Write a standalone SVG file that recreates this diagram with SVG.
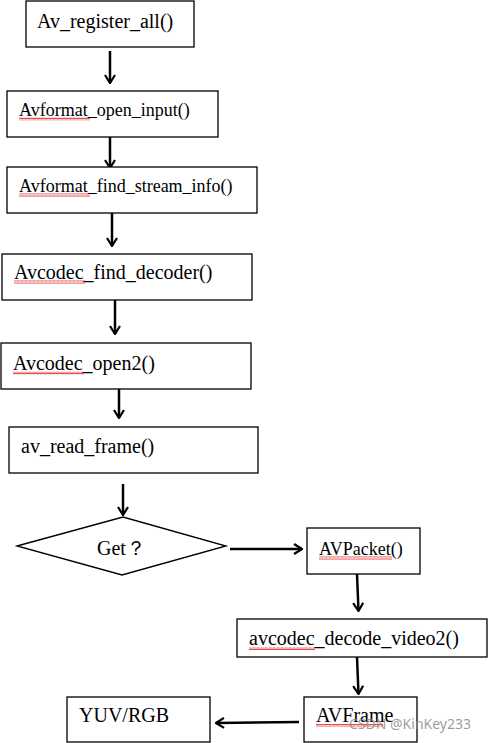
<svg xmlns="http://www.w3.org/2000/svg" width="488" height="743" viewBox="0 0 488 743">
<style>
.box{fill:#fff;stroke:#000;stroke-width:1.3}
.t{font-family:"Liberation Serif","Times New Roman",serif;font-size:20px;fill:#000}
.s{font-size:18px}
.c{fill:none;stroke:#000;stroke-width:2.5}
.sq{fill:url(#wave)}
.wm{font-family:"Noto Sans","DejaVu Sans",sans-serif;font-size:14px;fill:#8a8a8a;fill-opacity:0.85}
</style>
<defs>
<marker id="ah" viewBox="0 0 10 12" refX="9" refY="6" markerWidth="10" markerHeight="12" markerUnits="userSpaceOnUse" orient="auto">
<path d="M1,1 L9,6 L1,11" fill="none" stroke="#000" stroke-width="2.2"/>
</marker>
<pattern id="wave" width="4" height="3" patternUnits="userSpaceOnUse">
<polyline points="0,2.5 1,0.5 2,2.5 3,0.5 4,2.5" fill="none" stroke="#e02020" stroke-width="0.8"/>
</pattern>
</defs>
<g id="connectors">
<line class="c" x1="110" y1="51" x2="110" y2="83" marker-end="url(#ah)"/>
<line class="c" x1="110" y1="137" x2="110" y2="168" marker-end="url(#ah)"/>
<line class="c" x1="112" y1="213" x2="112" y2="246" marker-end="url(#ah)"/>
<line class="c" x1="115" y1="300" x2="115" y2="334" marker-end="url(#ah)"/>
<line class="c" x1="119" y1="389" x2="119" y2="418" marker-end="url(#ah)"/>
<line class="c" x1="123" y1="484" x2="123" y2="515" marker-end="url(#ah)"/>
<line class="c" x1="230" y1="549" x2="302" y2="549" marker-end="url(#ah)"/>
<line class="c" x1="357" y1="574" x2="358.5" y2="611" marker-end="url(#ah)"/>
<line class="c" x1="357" y1="657" x2="358.5" y2="694" marker-end="url(#ah)"/>
<line class="c" x1="299" y1="722" x2="216" y2="723" marker-end="url(#ah)"/>
</g>
<g id="n1">
<rect class="box" x="26" y="1" width="168" height="46"/>
<text class="t" x="37" y="28">Av_register_all()</text>
</g>
<g id="n2">
<rect class="box" x="7" y="91" width="211" height="46"/>
<text class="t s" x="19" y="116">Avformat_open_input()</text>
<rect class="sq" x="19" y="117.5" width="71" height="3"/>
</g>
<g id="n3">
<rect class="box" x="7" y="167" width="250" height="46"/>
<text class="t s" x="19" y="192">Avformat_find_stream_info()</text>
<rect class="sq" x="19" y="193.5" width="71" height="3"/>
</g>
<g id="n4">
<rect class="box" x="2" y="254" width="250" height="46"/>
<text class="t" x="14" y="279">Avcodec_find_decoder()</text>
<rect class="sq" x="14" y="280.5" width="71" height="3"/>
</g>
<g id="n5">
<rect class="box" x="1" y="343" width="250" height="46"/>
<text class="t" x="13" y="370">Avcodec_open2()</text>
<rect class="sq" x="13" y="371.5" width="71" height="3"/>
</g>
<g id="n6">
<rect class="box" x="9" y="427" width="249" height="46"/>
<text class="t" x="21" y="453">av_read_frame()</text>
</g>
<g id="n7">
<polygon class="box" points="17,546 123,517 226,546 122,575"/>
<text class="t" x="97" y="555" font-family="'Liberation Serif','Noto Sans CJK SC',serif">Get？</text>
</g>
<g id="n8">
<rect class="box" x="307" y="528" width="113" height="46"/>
<text class="t s" x="319" y="555">AVPacket()</text>
<rect class="sq" x="319" y="556.5" width="73" height="3"/>
</g>
<g id="n9">
<rect class="box" x="237" y="619" width="250" height="38"/>
<text class="t" x="249" y="645">avcodec_decode_video2()</text>
<rect class="sq" x="249" y="647" width="66" height="3"/>
</g>
<g id="n10">
<rect class="box" x="304" y="697" width="113" height="45"/>
<text class="t" x="316" y="722">AVFrame</text>
<rect class="sq" x="316" y="724" width="67" height="3"/>
</g>
<g id="n11">
<rect class="box" x="67" y="697" width="143" height="45"/>
<text class="t" x="79" y="722">YUV/RGB</text>
</g>
<text class="wm" x="349" y="729">CSDN @KinKey233</text>
</svg>
